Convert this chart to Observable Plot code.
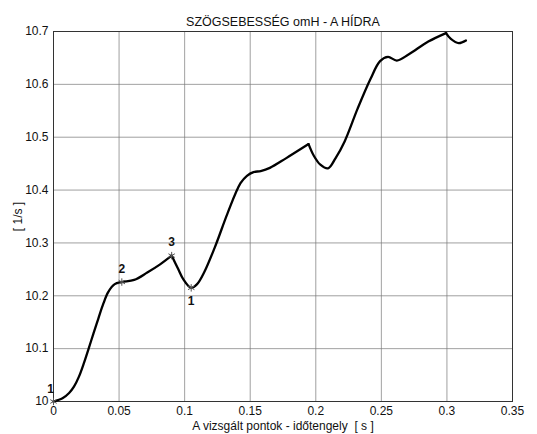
<!DOCTYPE html>
<html><head><meta charset="utf-8">
<script src="https://cdn.jsdelivr.net/npm/d3@7"></script>
<script src="https://cdn.jsdelivr.net/npm/@observablehq/plot@0.6"></script>
<style>body{margin:0;background:#fff;font-family:"Liberation Sans",Arial,sans-serif}</style>
</head><body><div id="chart"></div>
<script>
const timeS = [0, 0.0069, 0.0119, 0.0156, 0.0194, 0.0231, 0.0268, 0.0305, 0.0342, 0.038, 0.0417, 0.0467, 0.0521,
  0.0615, 0.0715, 0.081, 0.0901,
  0.095, 0.0988, 0.105, 0.1095, 0.115, 0.124, 0.1327, 0.1426, 0.1475, 0.1525, 0.158, 0.165, 0.1772, 0.1945,
  0.1985, 0.2035, 0.2093, 0.215, 0.222, 0.2319, 0.2417, 0.249, 0.2551, 0.2618, 0.271, 0.2858, 0.2993,
  0.303, 0.309, 0.3145];
const omegaH = [10.0, 10.006, 10.016, 10.028, 10.047, 10.072, 10.1, 10.129, 10.157, 10.185, 10.207, 10.222, 10.226,
  10.23, 10.244, 10.259, 10.276,
  10.251, 10.232, 10.215, 10.222, 10.245, 10.298, 10.356, 10.413, 10.427, 10.434, 10.436, 10.442, 10.46, 10.487,
  10.465, 10.448, 10.441, 10.46, 10.492, 10.554, 10.61, 10.644, 10.652, 10.645, 10.657, 10.681, 10.697,
  10.686, 10.678, 10.683];
const cuspT = [0.0901, 0.1945, 0.2993];
const markerT = [0, 0.0521, 0.0901, 0.105];
const markerW = [10.0, 10.226, 10.276, 10.215];
const markerLabels = ["1", "2", "3", "1"];
const xTicks = [0, 0.05, 0.1, 0.15, 0.2, 0.25, 0.3, 0.35];
const yTicks = [10, 10.1, 10.2, 10.3, 10.4, 10.5, 10.6, 10.7];
const titleText = "SZÖGSEBESSÉG omH - A HÍDRA";
const xLabel = "A vizsgált pontok - időtengely  [ s ]";
const yLabel = "[ 1/s ]";

// split into smooth pieces at the sharp corners
const bounds = [timeS[0], ...cuspT, timeS[timeS.length - 1]];
const curve = [];
for (let s = 0; s < bounds.length - 1; s++) {
  timeS.forEach((t, i) => {
    if (t >= bounds[s] && t <= bounds[s + 1]) curve.push({t, w: omegaH[i], seg: s});
  });
}
const markers = markerT.map((t, i) => ({t, w: markerW[i], label: markerLabels[i]}));
const fmt = d => String(+d.toFixed(2));

const chart = Plot.plot({
  width: 537, height: 434,
  marginLeft: 53, marginRight: 25, marginTop: 31, marginBottom: 33,
  style: {fontFamily: '"Liberation Sans", Arial, sans-serif', fontSize: "12px", background: "#fff", color: "#111"},
  x: {domain: [0, 0.35], ticks: xTicks, tickFormat: fmt, tickSize: 0, tickPadding: 5,
      label: xLabel, labelAnchor: "center", labelArrow: "none", labelOffset: 28},
  y: {domain: [10, 10.7], ticks: yTicks, tickFormat: fmt, tickSize: 0, tickPadding: 5,
      label: yLabel, labelAnchor: "center", labelArrow: "none", labelOffset: 40},
  marks: [
    Plot.gridX(xTicks, {stroke: "#777", strokeOpacity: 0.7, strokeWidth: 1}),
    Plot.gridY(yTicks, {stroke: "#777", strokeOpacity: 0.7, strokeWidth: 1}),
    Plot.frame({stroke: "#333", strokeWidth: 1}),
    Plot.line(curve, {x: "t", y: "w", z: "seg", curve: "catmull-rom", stroke: "#000", strokeWidth: 2.3, strokeLinejoin: "round"}),
    Plot.dot(markers, {x: "t", y: "w", symbol: "asterisk", r: 3.5, stroke: "#555", strokeWidth: 1}),
    Plot.text(markers.slice(0, 1), {x: "t", y: "w", text: "label", dx: -3, dy: -12, fontWeight: "bold", fontSize: 12}),
    Plot.text(markers.slice(1, 3), {x: "t", y: "w", text: "label", dx: 0, dy: -13, fontWeight: "bold", fontSize: 12}),
    Plot.text(markers.slice(3), {x: "t", y: "w", text: "label", dx: 0, dy: 13, fontWeight: "bold", fontSize: 12}),
    Plot.text([titleText], {frameAnchor: "top", dy: -14, fontSize: 12.5})
  ]
});
document.getElementById("chart").appendChild(chart);
</script>
</body></html>
